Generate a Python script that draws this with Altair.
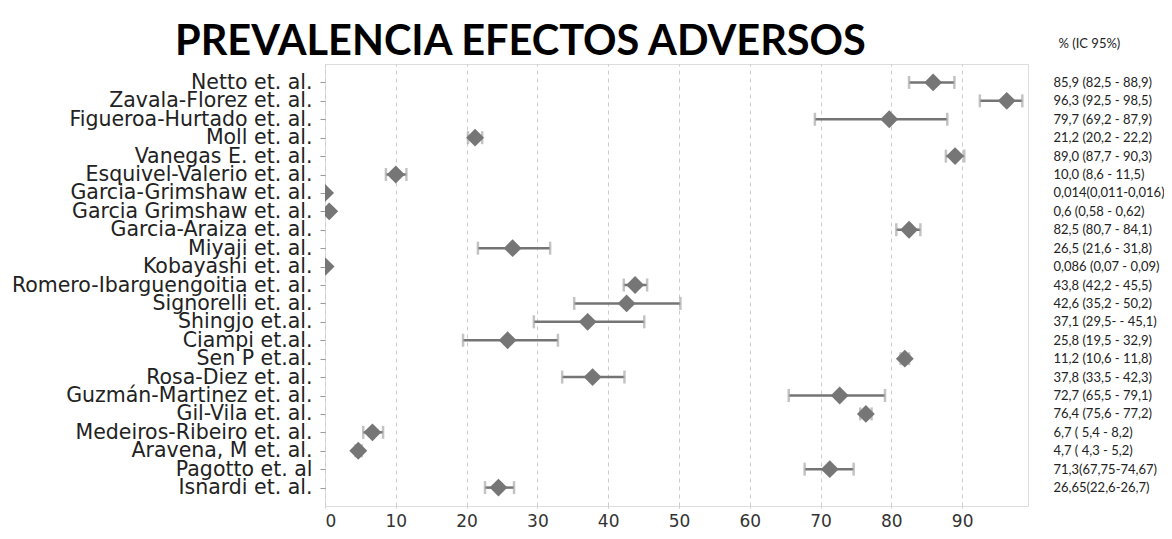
import json
import altair as alt
import pandas as pd

studies = [
    "Netto et. al.", "Zavala-Florez et. al.", "Figueroa-Hurtado et. al.", "Moll et. al.",
    "Vanegas E. et. al.", "Esquivel-Valerio et. al.", "Garcia-Grimshaw et. al.",
    "Garcia Grimshaw et. al.", "Garcia-Araiza et. al.", "Miyaji et. al.", "Kobayashi et. al.",
    "Romero-Ibarguengoitia et. al.", "Signorelli et. al.", "Shingjo et.al.", "Ciampi et.al.",
    "Sen P et.al.", "Rosa-Diez et. al.", "Guzmán-Martinez et. al.", "Gil-Vila et. al.",
    "Medeiros-Ribeiro et. al.", "Aravena, M et. al.", "Pagotto et. al", "Isnardi et. al.",
]
prevalence = [85.9, 96.3, 79.7, 21.2, 89.0, 10.0, 0.014, 0.6, 82.5, 26.5, 0.086,
              43.8, 42.6, 37.1, 25.8, 81.9, 37.8, 72.7, 76.4, 6.7, 4.7, 71.3, 24.5]
ci_low = [82.5, 92.5, 69.2, 20.2, 87.7, 8.6, 0.011, 0.58, 80.7, 21.6, 0.07,
          42.2, 35.2, 29.5, 19.5, 81.3, 33.5, 65.5, 75.6, 5.4, 4.3, 67.75, 22.6]
ci_high = [88.9, 98.5, 87.9, 22.2, 90.3, 11.5, 0.016, 0.62, 84.1, 31.8, 0.09,
           45.5, 50.2, 45.1, 32.9, 82.5, 42.3, 79.1, 77.2, 8.2, 5.2, 74.67, 26.7]
ci_text = [
    "85,9 (82,5 - 88,9)", "96,3 (92,5 - 98,5)", "79,7 (69,2 - 87,9)", "21,2 (20,2 - 22,2)",
    "89,0 (87,7 - 90,3)", "10,0 (8,6 - 11,5)", "0,014(0,011-0,016)", "0,6 (0,58 - 0,62)",
    "82,5 (80,7 - 84,1)", "26,5 (21,6 - 31,8)", "0,086 (0,07 - 0,09)", "43,8 (42,2 - 45,5)",
    "42,6 (35,2 - 50,2)", "37,1 (29,5- - 45,1)", "25,8 (19,5 - 32,9)", "11,2 (10,6 - 11,8)",
    "37,8 (33,5 - 42,3)", "72,7 (65,5 - 79,1)", "76,4 (75,6 - 77,2)", "6,7 ( 5,4 - 8,2)",
    "4,7 ( 4,3 - 5,2)", "71,3(67,75-74,67)", "26,65(22,6-26,7)",
]
x_ticks = [0, 10, 20, 30, 40, 50, 60, 70, 80, 90]
title_text = "PREVALENCIA EFECTOS ADVERSOS"
ci_header = "% (IC 95%)"

df = pd.DataFrame({"study": studies, "prev": prevalence, "lo": ci_low, "hi": ci_high})

y_scale = alt.Scale(type="point", domain=studies, padding=1.6)
x_scale = alt.Scale(domain=[0, 99.3], nice=False, zero=False)

x_axis = alt.Axis(
    values=x_ticks, title=None, domain=False, grid=True, gridColor="#cccccc",
    gridDash=[4, 4], gridWidth=1, ticks=True, tickColor="#cccccc", tickSize=4,
    tickDash=[2, 2], labelFont="DejaVu Sans", labelFontSize=17, labelColor="#333333",
    labelPadding=3,
)
left_axis = alt.Axis(
    orient="left", title=None, domain=False, grid=False, ticks=True, tickColor="#999999",
    tickSize=5, labelFont="DejaVu Sans", labelFontSize=20.5, labelColor="#222222",
    labelPadding=8, labelLimit=400,
)
label_expr = (json.dumps(ci_text, ensure_ascii=False) + "[indexof("
              + json.dumps(studies, ensure_ascii=False) + ", datum.value)]")
right_axis = alt.Axis(
    orient="right", title=ci_header, titleAngle=0, titleAlign="left", titleBaseline="middle",
    titleX=30, titleY=-21, titleFont="Lato", titleFontSize=13, titleFontWeight="normal",
    titleColor="#222222", domain=False, grid=False, ticks=False, labelPadding=25,
    labelExpr=label_expr, labelFont="Lato", labelFontSize=13, labelColor="#222222",
    labelLimit=300,
)

base = alt.Chart(df)
rules = base.mark_rule(color="#747474", strokeWidth=2.5, clip=True).encode(
    y=alt.Y("study:N", scale=y_scale, sort=None, axis=left_axis),
    x=alt.X("lo:Q", scale=x_scale, axis=x_axis),
    x2="hi:Q",
)
caps_lo = base.mark_tick(color="#a9a9a9", thickness=2.5, size=13, clip=True).encode(
    y=alt.Y("study:N", scale=y_scale, sort=None, axis=None),
    x=alt.X("lo:Q", scale=x_scale, axis=x_axis),
)
caps_hi = base.mark_tick(color="#a9a9a9", thickness=2.5, size=13, clip=True).encode(
    y=alt.Y("study:N", scale=y_scale, sort=None, axis=None),
    x=alt.X("hi:Q", scale=x_scale, axis=x_axis),
)
points = base.mark_point(shape="diamond", filled=True, size=320, color="#767676",
                         opacity=1, clip=True).encode(
    y=alt.Y("study:N", scale=y_scale, sort=None, axis=right_axis),
    x=alt.X("prev:Q", scale=x_scale, axis=x_axis),
)

chart = (
    alt.layer(rules, caps_lo, caps_hi, points)
    .resolve_axis(y="independent")
    .properties(
        width=703, height=442,
        autosize=alt.AutoSizeParams(type="none"),
        padding={"left": 317, "top": 56, "right": 136, "bottom": 25},
        title=alt.TitleParams(
            title_text, font="Lato", fontSize=41.5, fontWeight="bold", color="#000000",
            anchor="start", frame="group", dx=-150, offset=-26,
        ),
    )
    .configure_view(stroke="#b5b5b5", strokeWidth=2)
    .configure(background="white")
)

chart.save("out.html", embed_options={"renderer": "svg", "actions": False})
